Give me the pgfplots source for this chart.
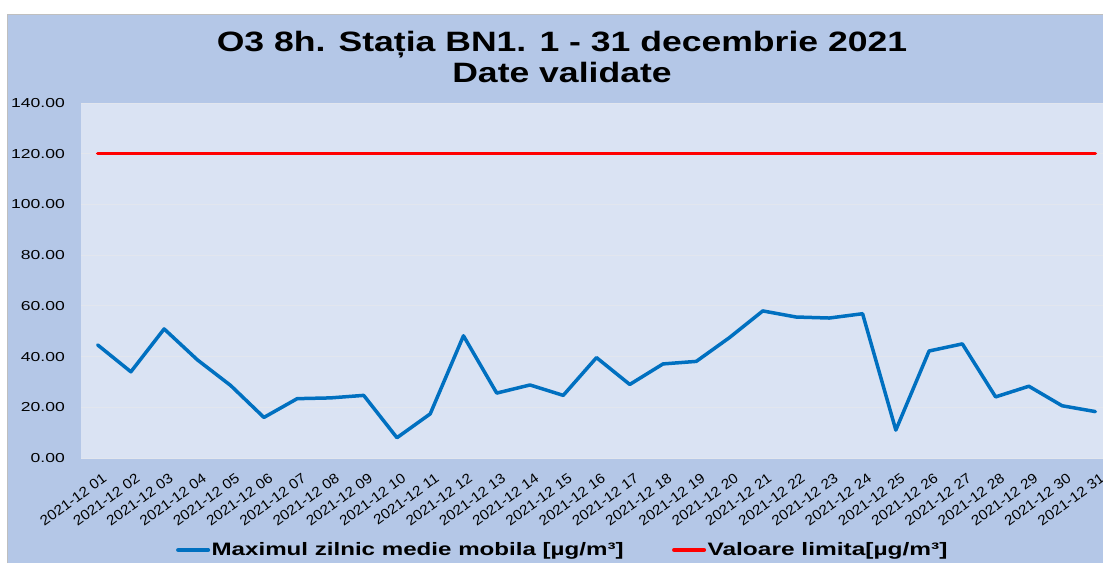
\documentclass[border=0pt]{standalone}
\usepackage{pgfplots}
\pgfplotsset{compat=1.18}
\usepackage{fontspec}
\setmainfont{Liberation Sans}
\usepackage{graphicx}

\definecolor{outerbg}{RGB}{180,199,231}
\definecolor{plotbg}{RGB}{218,227,243}
\definecolor{gridc}{RGB}{226,230,238}
\definecolor{serblue}{RGB}{0,112,192}
\definecolor{serred}{RGB}{255,0,0}

% the original picture is stretched sideways
\newcommand\sx[1]{\scalebox{1.35}[1]{#1}}
\newcommand\dl[1]{\scalebox{1.1}[1]{2021-12 #1}}

\pgfplotstableread{
day val
1 44.6
2 34.0
3 50.9
4 38.7
5 28.6
6 16.0
7 23.4
8 23.7
9 24.7
10 8.0
11 17.4
12 48.2
13 25.6
14 28.8
15 24.7
16 39.6
17 29.0
18 37.1
19 38.1
20 47.5
21 58.0
22 55.6
23 55.2
24 56.9
25 11.0
26 42.2
27 45.0
28 24.1
29 28.3
30 20.6
31 18.3
}\ozone

\begin{document}
\begin{tikzpicture}[x=1pt,y=1pt]
\useasboundingbox (0,0) rectangle (1103,563);
\fill[white] (0,0) rectangle (1103,563);
\fill[outerbg] (7,0) rectangle (1103,549);
\draw[gray!50, line width=0.8pt] (7,0) -- (7,549) -- (1103,549);

\node[font=\bfseries\fontsize{28}{31}\selectfont, align=center] at (562,506)
  {\scalebox{1.27}[1]{O3 8h. Stația BN1. 1 - 31 decembrie 2021}\\\scalebox{1.27}[1]{Date validate}};

\begin{axis}[
    at={(81pt,105pt)}, anchor=origin,
    scale only axis,
    width=1022pt, height=355pt,
    xmin=0.5, xmax=31.23,
    ymin=0, ymax=140,
    ytick={0,20,...,140},
    xtick={1,...,31},
    xticklabels={\dl{01},\dl{02},\dl{03},\dl{04},\dl{05},\dl{06},\dl{07},\dl{08},
      \dl{09},\dl{10},\dl{11},\dl{12},\dl{13},\dl{14},\dl{15},\dl{16},\dl{17},
      \dl{18},\dl{19},\dl{20},\dl{21},\dl{22},\dl{23},\dl{24},\dl{25},\dl{26},
      \dl{27},\dl{28},\dl{29},\dl{30},\dl{31}},
    /pgf/number format/assume math mode=true,
    yticklabel={\sx{\pgfmathprintnumber[fixed,fixed zerofill,precision=2]{\tick}}},
    yticklabel style={anchor=east, inner sep=0pt, xshift=-16pt, font=\fontsize{13}{15}\selectfont},
    xticklabel style={rotate=36, anchor=north east, inner sep=0pt, yshift=-14pt, xshift=-5pt,
      font=\fontsize{14}{16}\selectfont},
    major tick length=0pt,
    axis line style={draw=none},
    axis background/.style={fill=plotbg},
    ymajorgrids,
    grid style={gridc, line width=0.8pt},
    clip=false,
    legend columns=2,
    legend style={at={(axis description cs:0.0929,-0.259)}, anchor=west,
      draw=none, fill=none, inner sep=0pt,
      font=\bfseries\fontsize{18}{20}\selectfont,
      nodes={inner sep=1.5pt},
      /tikz/every even column/.append style={column sep=47pt}},
    legend image code/.code={\draw[#1, line width=4pt] (0pt,0pt) -- (30pt,0pt);},
]
\addplot[serblue, line width=3.5pt, line join=round, line cap=round] table[x=day, y=val] {\ozone};
\addlegendentry{\scalebox{1.34}[1]{Maximul zilnic medie mobila [µg/m³]}}
\addplot[serred, line width=3.5pt, line cap=round] coordinates {(1,120) (31,120)};
\addlegendentry{\scalebox{1.36}[1]{Valoare limita[µg/m³]}}
\end{axis}
\end{tikzpicture}
\end{document}
